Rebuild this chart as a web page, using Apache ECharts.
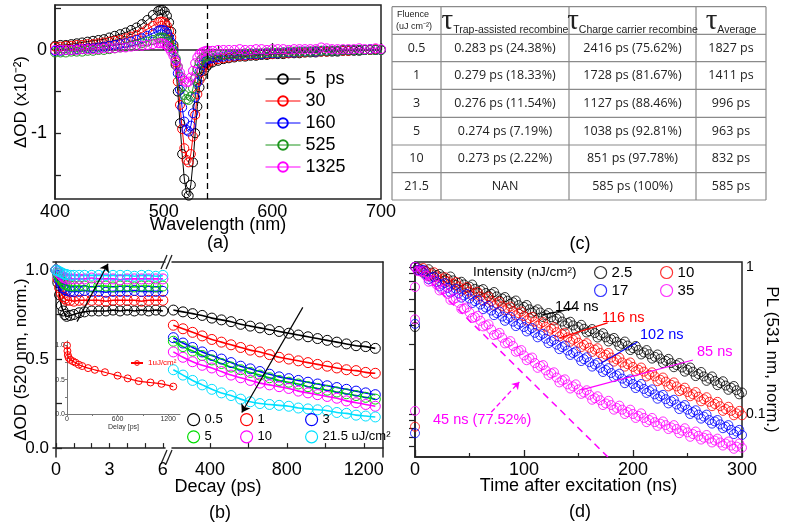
<!DOCTYPE html>
<html>
<head>
<meta charset="utf-8">
<script src="https://cdn.jsdelivr.net/npm/echarts@6.0.0/dist/echarts.min.js"></script>
<style>
html,body{margin:0;padding:0;background:#fff}
#chart{width:787px;height:528px}
</style>
</head>
<body>
<div id="chart"></div>
<script>
// ---- (a) transient absorption spectra ----
let wavelength = [400,405,410,415,420,425,430,435,440,445,450,455,460,465,470,475,480,485,490,495,
  497,499,501,503,505,507,509,511,513,515,517,519,521,523,525,527,529,531,533,535,537,539,541,
  545,550,555,560,565,570,575,580,585,590,595,600,605,610,615,620,625,630,635,640,645,650,655,660,665,670,675,680,685,690,695,700]
let spec5 = [0.05,0.06,0.06,0.07,0.08,0.09,0.10,0.11,0.12,0.13,0.15,0.17,0.19,0.21,0.24,0.27,0.31,0.36,0.42,0.47,
  0.48,0.48,0.46,0.41,0.33,0.22,0.06,-0.18,-0.50,-0.88,-1.25,-1.55,-1.72,-1.75,-1.62,-1.35,-1.00,-0.68,-0.45,-0.32,-0.25,-0.21,-0.18,
  -0.15,-0.13,-0.11,-0.10,-0.09,-0.08,-0.08,-0.07,-0.07,-0.06,-0.06,-0.05,-0.05,-0.05,-0.04,-0.04,-0.04,-0.03,-0.03,-0.03,-0.02,-0.02,-0.02,-0.02,-0.01,-0.01,-0.01,-0.01,0.0,0.0,0.0,0.0]
let spec30 = [0.04,0.04,0.05,0.05,0.06,0.06,0.07,0.07,0.08,0.09,0.10,0.11,0.12,0.14,0.16,0.18,0.21,0.25,0.29,0.33,
  0.34,0.34,0.33,0.29,0.23,0.15,0.03,-0.15,-0.38,-0.66,-0.95,-1.18,-1.32,-1.35,-1.25,-1.04,-0.78,-0.53,-0.36,-0.26,-0.20,-0.17,-0.15,
  -0.13,-0.11,-0.10,-0.09,-0.08,-0.07,-0.07,-0.06,-0.06,-0.05,-0.05,-0.05,-0.04,-0.04,-0.04,-0.03,-0.03,-0.03,-0.02,-0.02,-0.02,-0.02,-0.01,-0.01,-0.01,-0.01,0.0,0.0,0.0,0.0,0.01,0.0]
let spec160 = [-0.01,-0.01,0.00,0.00,0.01,0.01,0.02,0.02,0.03,0.04,0.05,0.06,0.07,0.08,0.10,0.12,0.14,0.17,0.20,0.23,
  0.24,0.24,0.23,0.20,0.15,0.09,0.00,-0.12,-0.28,-0.48,-0.69,-0.86,-0.96,-0.98,-0.91,-0.76,-0.57,-0.39,-0.26,-0.18,-0.14,-0.12,-0.11,
  -0.10,-0.09,-0.08,-0.07,-0.07,-0.06,-0.06,-0.05,-0.05,-0.05,-0.04,-0.04,-0.04,-0.03,-0.03,-0.03,-0.02,-0.02,-0.02,-0.02,-0.01,-0.01,-0.01,-0.01,0.0,0.0,0.0,0.0,0.0,0.01,0.0,0.0]
let spec525 = [-0.03,-0.03,-0.03,-0.02,-0.02,-0.02,-0.01,-0.01,0.00,0.00,0.01,0.02,0.03,0.04,0.05,0.06,0.08,0.10,0.12,0.14,
  0.15,0.15,0.14,0.12,0.08,0.04,-0.03,-0.10,-0.20,-0.32,-0.44,-0.54,-0.59,-0.60,-0.56,-0.46,-0.34,-0.23,-0.15,-0.11,-0.09,-0.08,-0.07,
  -0.07,-0.06,-0.06,-0.05,-0.05,-0.05,-0.04,-0.04,-0.04,-0.04,-0.03,-0.03,-0.03,-0.03,-0.02,-0.02,-0.02,-0.02,-0.02,-0.01,-0.01,-0.01,-0.01,-0.01,0.0,0.0,0.0,0.0,0.0,0.0,0.0,0.0]
let spec1325 = [0.00,0.00,0.00,0.00,0.00,0.01,0.01,0.01,0.01,0.02,0.02,0.02,0.03,0.03,0.04,0.05,0.05,0.06,0.07,0.08,
  0.08,0.08,0.07,0.05,0.02,-0.02,-0.07,-0.13,-0.20,-0.27,-0.33,-0.37,-0.39,-0.38,-0.33,-0.25,-0.16,-0.09,-0.05,-0.03,-0.02,-0.01,-0.01,
  -0.01,0.0,0.0,0.0,0.0,0.01,0.0,0.0,0.01,0.01,0.0,0.01,0.01,0.01,0.0,0.01,0.01,0.01,0.01,0.01,0.03,0.02,0.01,0.01,0.01,0.01,0.01,0.02,0.01,0.01,0.02,0.01]
let probeLine = 540

// ---- (b) kinetics at 520 nm ----
let fastDelay = [0,0.1,0.2,0.3,0.4,0.5,0.6,0.8,1.0,1.3,1.6,2.0,2.4,2.8,3.2,3.6,4.0,4.4,4.8,5.2,5.6,6.0]
let fast05 = [1.0,0.93,0.86,0.80,0.77,0.75,0.74,0.745,0.75,0.76,0.765,0.77,0.77,0.77,0.775,0.77,0.775,0.77,0.775,0.77,0.775,0.77]
let fast1 = [1.0,0.95,0.90,0.87,0.85,0.84,0.83,0.83,0.825,0.83,0.83,0.83,0.83,0.825,0.83,0.83,0.83,0.83,0.825,0.83,0.83,0.83]
let fast3 = [1.0,0.97,0.94,0.92,0.90,0.89,0.885,0.88,0.88,0.88,0.885,0.88,0.88,0.875,0.88,0.88,0.88,0.885,0.88,0.88,0.88,0.88]
let fast5 = [1.0,0.98,0.96,0.945,0.93,0.92,0.915,0.91,0.91,0.91,0.91,0.905,0.91,0.91,0.905,0.91,0.91,0.905,0.91,0.91,0.905,0.91]
let fast10 = [1.0,0.99,0.98,0.97,0.96,0.955,0.95,0.95,0.95,0.95,0.95,0.955,0.95,0.95,0.95,0.945,0.95,0.95,0.95,0.95,0.95,0.95]
let fast215 = [1.0,0.995,0.99,0.985,0.98,0.975,0.975,0.97,0.97,0.97,0.97,0.97,0.97,0.97,0.97,0.97,0.97,0.965,0.97,0.97,0.965,0.97]

let slowDelay = [210,260,310,360,410,460,510,560,610,660,710,760,810,860,910,960,1010,1060,1110,1160,1210,1260]
let slow05 = [0.775,0.765,0.755,0.745,0.73,0.72,0.71,0.695,0.685,0.675,0.665,0.655,0.645,0.635,0.625,0.615,0.605,0.595,0.585,0.575,0.57,0.56]
let slow1 = [0.69,0.67,0.65,0.63,0.61,0.595,0.58,0.565,0.55,0.54,0.525,0.51,0.50,0.49,0.48,0.47,0.46,0.45,0.44,0.435,0.425,0.42]
let slow3 = [0.62,0.59,0.565,0.54,0.52,0.50,0.48,0.46,0.445,0.43,0.415,0.40,0.39,0.38,0.37,0.36,0.35,0.34,0.33,0.32,0.31,0.30]
let slow5 = [0.60,0.57,0.545,0.52,0.495,0.475,0.455,0.44,0.425,0.41,0.395,0.38,0.37,0.36,0.345,0.335,0.325,0.315,0.305,0.295,0.285,0.275]
let slow10 = [0.54,0.51,0.485,0.465,0.45,0.43,0.41,0.395,0.38,0.365,0.355,0.345,0.335,0.32,0.31,0.30,0.29,0.28,0.265,0.255,0.245,0.235]
let slow215 = [0.44,0.41,0.38,0.355,0.33,0.31,0.295,0.275,0.26,0.25,0.245,0.24,0.235,0.225,0.22,0.215,0.21,0.20,0.195,0.185,0.18,0.175]

let insetDelay = [0,5,10,20,40,70,100,140,180,250,330,450,600,720,850,990,1120,1260]
let inset1uJ = [1.0,0.92,0.86,0.82,0.79,0.77,0.75,0.72,0.70,0.67,0.645,0.61,0.56,0.52,0.48,0.46,0.44,0.40]

let fluenceNames = ['0.5','1','3','5','10','21.5 uJ/cm²']

// ---- (c) table ----
let tableFluence = ['0.5','1','3','5','10','21.5']
let tableTrap = ['0.283 ps (24.38%)','0.279 ps (18.33%)','0.276 ps (11.54%)','0.274 ps (7.19%)','0.273 ps (2.22%)','NAN']
let tableCharge = ['2416 ps (75.62%)','1728 ps (81.67%)','1127 ps (88.46%)','1038 ps (92.81%)','851 ps (97.78%)','585 ps (100%)']
let tableAvg = ['1827 ps','1411 ps','996 ps','963 ps','832 ps','585 ps']

// ---- (d) PL decay ----
let plTime = [0,5,10,15,20,25,30,35,40,45,50,55,60,65,70,75,80,85,90,95,100,105,110,115,120,125,130,135,140,145,
  150,155,160,165,170,175,180,185,190,195,200,205,210,215,220,225,230,235,240,245,250,255,260,265,270,275,280,285,290,295,300]
let pl25 = [1.0,0.965,0.94,0.915,0.88,0.86,0.83,0.81,0.78,0.76,0.735,0.71,0.695,0.665,0.655,0.63,0.61,0.59,0.575,0.55,
  0.535,0.515,0.50,0.49,0.47,0.455,0.445,0.425,0.415,0.40,0.39,0.38,0.365,0.355,0.342,0.332,0.322,0.31,0.30,0.292,
  0.28,0.272,0.262,0.255,0.245,0.238,0.23,0.222,0.215,0.207,0.20,0.194,0.187,0.18,0.174,0.168,0.162,0.156,0.151,0.145,0.14]
let pl10 = [1.0,0.96,0.93,0.89,0.86,0.825,0.795,0.77,0.735,0.71,0.68,0.66,0.63,0.61,0.585,0.565,0.54,0.525,0.50,0.485,
  0.463,0.447,0.425,0.412,0.392,0.38,0.36,0.348,0.332,0.32,0.305,0.295,0.282,0.274,0.26,0.253,0.242,0.235,0.224,0.218,
  0.209,0.2,0.194,0.185,0.18,0.171,0.166,0.158,0.154,0.146,0.141,0.136,0.131,0.126,0.121,0.117,0.113,0.108,0.105,0.101,0.098]
let pl17 = [1.0,0.945,0.89,0.845,0.79,0.76,0.72,0.69,0.66,0.64,0.61,0.585,0.555,0.53,0.505,0.485,0.46,0.445,0.425,0.408,
  0.39,0.375,0.356,0.342,0.325,0.312,0.296,0.285,0.27,0.26,0.245,0.236,0.225,0.217,0.206,0.199,0.19,0.183,0.174,0.168,
  0.16,0.155,0.148,0.143,0.136,0.132,0.126,0.122,0.116,0.112,0.107,0.103,0.099,0.096,0.091,0.089,0.085,0.082,0.078,0.076,0.072]
let pl35 = [1.0,0.93,0.87,0.80,0.755,0.70,0.655,0.60,0.57,0.52,0.49,0.455,0.43,0.40,0.375,0.348,0.33,0.305,0.29,0.268,
  0.25,0.238,0.222,0.212,0.198,0.189,0.177,0.169,0.159,0.154,0.147,0.14,0.135,0.128,0.124,0.118,0.115,0.11,0.107,0.103,
  0.1,0.097,0.094,0.091,0.088,0.086,0.084,0.081,0.079,0.077,0.075,0.073,0.071,0.069,0.068,0.066,0.064,0.063,0.061,0.06,0.059]
// the interleaved (noisier) readings between the points above
let plTimeMid = [2.5,7.5,12.5,17.5,22.5,27.5,32.5,37.5,42.5,47.5,52.5,57.5,62.5,67.5,72.5,77.5,82.5,87.5,92.5,97.5,
  102.5,107.5,112.5,117.5,122.5,127.5,132.5,137.5,142.5,147.5,152.5,157.5,162.5,167.5,172.5,177.5,182.5,187.5,192.5,197.5,
  202.5,207.5,212.5,217.5,222.5,227.5,232.5,237.5,242.5,247.5,252.5,257.5,262.5,267.5,272.5,277.5,282.5,287.5,292.5,297.5]
let pl25Mid = [0.99,0.915,0.965,0.853,0.896,0.811,0.861,0.755,0.793,0.718,0.759,0.668,0.707,0.634,0.675,0.589,0.624,0.56,0.591,0.516,
  0.551,0.488,0.515,0.456,0.486,0.432,0.457,0.399,0.424,0.375,0.404,0.358,0.378,0.331,0.354,0.311,0.329,0.29,0.311,0.272,
  0.29,0.254,0.272,0.238,0.254,0.222,0.237,0.208,0.222,0.194,0.207,0.181,0.193,0.168,0.18,0.157,0.167,0.146,0.155,0.136]
let pl10Mid = [0.951,0.983,0.865,0.919,0.801,0.851,0.744,0.79,0.687,0.73,0.637,0.677,0.589,0.628,0.546,0.58,0.506,0.538,0.468,0.498,
  0.432,0.458,0.398,0.422,0.367,0.389,0.336,0.357,0.31,0.328,0.285,0.303,0.264,0.28,0.244,0.26,0.227,0.241,0.21,0.224,
  0.195,0.207,0.18,0.192,0.167,0.177,0.154,0.164,0.143,0.151,0.132,0.141,0.122,0.13,0.113,0.121,0.105,0.112,0.098,0.105]
let pl17Mid = [0.953,0.955,0.824,0.859,0.736,0.777,0.67,0.709,0.618,0.656,0.568,0.599,0.516,0.544,0.47,0.497,0.43,0.457,0.396,0.419,
  0.364,0.384,0.332,0.351,0.303,0.319,0.276,0.292,0.252,0.266,0.229,0.243,0.21,0.223,0.193,0.205,0.178,0.188,0.162,0.172,
  0.15,0.16,0.139,0.147,0.127,0.135,0.118,0.125,0.108,0.115,0.1,0.106,0.093,0.099,0.086,0.091,0.08,0.084,0.073,0.078]
let pl35Mid = [0.936,0.936,0.793,0.817,0.692,0.712,0.597,0.614,0.518,0.53,0.449,0.465,0.394,0.407,0.344,0.356,0.302,0.313,0.265,0.272,
  0.232,0.242,0.206,0.215,0.184,0.192,0.164,0.172,0.149,0.159,0.137,0.145,0.125,0.132,0.115,0.123,0.107,0.114,0.1,0.107,
  0.094,0.101,0.088,0.094,0.083,0.089,0.079,0.084,0.074,0.08,0.07,0.076,0.067,0.072,0.064,0.068,0.061,0.065,0.058,0.063]
// points recorded right at t = 0 (before the pulse)
let plStart25 = [0.39]
let plStart10 = [0.082]
let plStart17 = [0.41,0.074]
let plStart35 = [0.73,0.44,0.105]
let fit45Time = [0,177]
let fit45Value = [1.0,0.051]

let black = '#000000', red = '#ff0000', blue = '#0000ff', greenA = '#1e961e', greenB = '#00dd00', magenta = '#ff00ff', cyan = '#00e0ff'
let font = 'Liberation Sans'

function pairs(xs, ys){
  return xs.map(function(x, i){ return [x, ys[i]] })
}
function hollow(c){
  return {color:'rgba(255,255,255,0)', borderColor:c, borderWidth:1}
}
function lineAxis(){
  return {lineStyle:{color:'#222', width:1.5}}
}
function plain(v){ return String(v) }

let series = []

// (a)
let specList = [['5  ps', spec5, black], ['30', spec30, red], ['160', spec160, blue], ['525', spec525, greenA], ['1325', spec1325, magenta]]
specList.forEach(function(s, i){
  let item = {
    name: s[0], type:'line', xAxisIndex:0, yAxisIndex:0,
    data: pairs(wavelength, s[1]),
    symbol:'circle', symbolSize:9, showSymbol:true, showAllSymbol:true,
    color: s[2], itemStyle: hollow(s[2]), lineStyle:{color:s[2], width:1}
  }
  if(i == 0){
    item.markLine = {silent:true, symbol:'none', label:{show:false},
      lineStyle:{type:[6,4], color:'#000', width:1.3}, data:[{xAxis:probeLine}]}
  }
  series.push(item)
})

// (b)
let bColors = [black, red, blue, greenB, magenta, cyan]
let fastList = [fast05, fast1, fast3, fast5, fast10, fast215]
let slowList = [slow05, slow1, slow3, slow5, slow10, slow215]
fluenceNames.forEach(function(n, i){
  let c = bColors[i]
  let fast = {
    name:n, type:'line', xAxisIndex:1, yAxisIndex:1, data:pairs(fastDelay, fastList[i]),
    symbol:'circle', symbolSize:10, showAllSymbol:true, smooth:0.3,
    color:c, itemStyle:hollow(c), lineStyle:{color:c, width:1.6}
  }
  let slow = {
    name:n, type:'line', xAxisIndex:3, yAxisIndex:2, data:pairs(slowDelay, slowList[i]),
    symbol:'circle', symbolSize:10, showAllSymbol:true, smooth:0.3,
    color:c, itemStyle:hollow(c), lineStyle:{color:c, width:1.6}
  }
  if(i == 0){
    fast.markLine = {silent:true, symbol:['none','arrow'], symbolSize:8, label:{show:false},
      lineStyle:{color:'#000', width:1.2, type:'solid'},
      data:[[{coord:[1.18,0.71]},{coord:[2.92,1.035]}]]}
    slow.markLine = {silent:true, symbol:['none','arrow'], symbolSize:8, label:{show:false},
      lineStyle:{color:'#000', width:1.2, type:'solid'},
      data:[[{coord:[883,0.79]},{coord:[566,0.2]}]]}
  }
  series.push(fast, slow)
})
series.push({
  name:'1uJ/cm²', type:'line', xAxisIndex:5, yAxisIndex:3, data:pairs(insetDelay, inset1uJ),
  symbol:'circle', symbolSize:7, showAllSymbol:true, smooth:0.3,
  color:red, itemStyle:hollow(red), lineStyle:{color:red, width:1.2}
})

// (d)
let plList = [
  ['2.5', pl25, pl25Mid, plStart25, black, [[116,0.47],[148,0.526]]],
  ['10 ', pl10, pl10Mid, plStart10, red, [[132.5,0.329],[176.7,0.416]]],
  ['17', pl17, pl17Mid, plStart17, blue, [[171,0.222],[204,0.309]]],
  ['35', pl35, pl35Mid, plStart35, magenta, [[152.8,0.146],[255,0.233]]]
]
plList.forEach(function(s){
  let pts = pairs(plTime, s[1]).concat(pairs(plTimeMid, s[2])).concat(s[3].map(function(v){ return [0, v] }))
  series.push({
    name:s[0], type:'scatter', xAxisIndex:6, yAxisIndex:4, data:pts,
    symbol:'circle', symbolSize:9, color:s[4], itemStyle:hollow(s[4]),
    markLine:{silent:true, symbol:'none', label:{show:false},
      lineStyle:{color:s[4], width:1.2, type:'solid'},
      data:[[{coord:s[5][0]},{coord:s[5][1]}]]}
  })
})
series.push({
  name:'fit 45 ns', type:'line', xAxisIndex:6, yAxisIndex:4, data:pairs(fit45Time, fit45Value),
  symbol:'none', color:magenta, lineStyle:{color:magenta, width:1.5, type:[7,5]},
  markLine:{silent:true, symbol:['none','arrow'], symbolSize:7, label:{show:false},
    lineStyle:{color:magenta, width:1.3, type:[5,3]},
    data:[[{coord:[70,0.103]},{coord:[95.7,0.165]}]]}
})

// ---- table graphics ----
let colX = [392, 441, 569, 696, 766]
let rowY = [6.7, 34.3, 61.7, 89.3, 117.3, 145, 172.7, 200]
let graphic = []
colX.forEach(function(x){
  graphic.push({type:'line', shape:{x1:x, y1:rowY[0], x2:x, y2:rowY[rowY.length-1]}, style:{stroke:'#8a8a8a', lineWidth:1.2}})
})
rowY.forEach(function(y){
  graphic.push({type:'line', shape:{x1:colX[0], y1:y, x2:colX[4], y2:y}, style:{stroke:'#8a8a8a', lineWidth:1.2}})
})
let cellFont = 'Open Sans'
function cell(text, col, row){
  graphic.push({type:'text', x:(colX[col]+colX[col+1])/2, y:(rowY[row+1]+rowY[row+2])/2,
    style:{text:text, fontSize:12.5, fontFamily:cellFont, fill:'#222', align:'center', verticalAlign:'middle'}})
}
tableFluence.forEach(function(t, i){
  cell(t, 0, i); cell(tableTrap[i], 1, i); cell(tableCharge[i], 2, i); cell(tableAvg[i], 3, i)
})
graphic.push({type:'text', x:397, y:14.5, style:{text:'Fluence', fontSize:9, fontFamily:font, fill:'#222', align:'left', verticalAlign:'middle'}})
graphic.push({type:'text', x:396, y:27, style:{text:'(uJ cm⁻²)', fontSize:9, fontFamily:font, fill:'#222', align:'left', verticalAlign:'middle'}})
let tauRich = {
  t:{fontSize:29, fontFamily:'Liberation Serif', fill:'#222', lineHeight:26, verticalAlign:'bottom'},
  s:{fontSize:10.5, fontFamily:font, fill:'#222', lineHeight:12, verticalAlign:'bottom'}
}
let tauHeads = ['Trap-assisted recombine', 'Charge carrier recombine', 'Average']
tauHeads.forEach(function(h, i){
  graphic.push({type:'text', x:(colX[i+1]+colX[i+2])/2, y:23,
    style:{text:'{t|τ}{s|' + h + '}', rich:tauRich, align:'center', verticalAlign:'middle'}})
})

// ---- panel labels, axis titles and annotations ----
function label(text, x, y, size, color, align){
  graphic.push({type:'text', x:x, y:y, style:{text:text, fontSize:size, fontFamily:font, fill:color || '#000',
    align:align || 'center', verticalAlign:'middle'}})
}
label('(a)', 218, 243, 18)
label('(b)', 220, 513, 18)
label('(c)', 580, 244, 18)
label('(d)', 580, 512, 18)
label('Decay (ps)', 218, 487, 18)
label('Intensity (nJ/cm²)', 473, 272, 13.5, '#000', 'left')
label('144 ns', 555, 307, 14.5, black, 'left')
label('116 ns', 602, 318, 14.5, red, 'left')
label('102 ns', 640, 335, 14.5, blue, 'left')
label('85 ns', 697, 352, 14.5, magenta, 'left')
label('45 ns (77.52%)', 433, 420, 14.5, magenta, 'left')

// axis break marks
;[262, 457].forEach(function(y){
  graphic.push({type:'rect', shape:{x:163, y:y-3, width:10, height:6}, style:{fill:'#fff'}})
  graphic.push({type:'line', shape:{x1:161, y1:y+7, x2:167, y2:y-7}, style:{stroke:'#222', lineWidth:1.3}})
  graphic.push({type:'line', shape:{x1:166, y1:y+7, x2:172, y2:y-7}, style:{stroke:'#222', lineWidth:1.3}})
})

let tickLabel = {color:'#000', fontSize:17, fontFamily:font}
let noSplit = {show:false}

let option = {
  animation:false,
  backgroundColor:'#fff',
  textStyle:{fontFamily:font},
  grid:[
    {left:55, top:5, width:326, height:194, show:true, borderColor:'#222', borderWidth:1.5},
    {left:53, top:262, width:112, height:195},
    {left:172, top:262, width:211, height:195},
    {left:67, top:340.7, width:113, height:73.3},
    {left:415, top:262, width:327, height:195, show:true, borderColor:'#222', borderWidth:1.5}
  ],
  xAxis:[
    {gridIndex:0, type:'value', min:400, max:700, interval:100, axisLine:lineAxis(),
      axisTick:{inside:true, length:7, lineStyle:{color:'#222', width:1.3}},
      minorTick:{show:true, splitNumber:2, length:4, lineStyle:{color:'#222', width:1.2}},
      axisLabel:{color:'#000', fontSize:18, margin:4}, splitLine:noSplit,
      name:'Wavelength (nm)', nameLocation:'middle', nameGap:17, nameMoveOverlap:false,
      nameTextStyle:{color:'#000', fontSize:18}},
    {gridIndex:1, type:'value', min:-0.17, max:6.12, axisLine:lineAxis(),
      axisTick:{inside:true, length:5, customValues:[0,1,2,3,4,5,6], lineStyle:{color:'#222', width:1.2}},
      axisLabel:Object.assign({customValues:[0,3,6], margin:4}, tickLabel, {fontSize:18}), splitLine:noSplit},
    {gridIndex:1, type:'value', position:'top', min:-0.17, max:6.12, axisLine:lineAxis(),
      axisTick:{show:false}, axisLabel:{show:false}, splitLine:noSplit},
    {gridIndex:2, type:'value', min:203, max:1300, axisLine:lineAxis(),
      axisTick:{inside:true, length:5, customValues:[400,600,800,1000,1200], lineStyle:{color:'#222', width:1.2}},
      axisLabel:Object.assign({customValues:[400,800,1200], margin:4, formatter:plain}, tickLabel, {fontSize:18}), splitLine:noSplit},
    {gridIndex:2, type:'value', position:'top', min:203, max:1300, axisLine:lineAxis(),
      axisTick:{show:false}, axisLabel:{show:false}, splitLine:noSplit},
    {gridIndex:3, type:'value', min:0, max:1340, axisLine:{lineStyle:{color:'#777', width:1}},
      axisTick:{inside:false, length:2, customValues:[0,300,600,900,1200], lineStyle:{color:'#777'}},
      axisLabel:{customValues:[0,600,1200], fontSize:7, color:'#333', margin:2, formatter:plain}, splitLine:noSplit,
      name:'Delay [ps]', nameLocation:'middle', nameGap:10, nameMoveOverlap:false, nameTextStyle:{fontSize:7, color:'#333'}},
    {gridIndex:4, type:'value', min:0, max:300, interval:100, axisLine:lineAxis(),
      axisTick:{inside:true, length:7, lineStyle:{color:'#222', width:1.3}},
      minorTick:{show:true, splitNumber:2, length:4, lineStyle:{color:'#222', width:1.2}},
      axisLabel:{color:'#000', fontSize:18, margin:4}, splitLine:noSplit,
      name:'Time after excitation (ns)', nameLocation:'middle', nameGap:20, nameMoveOverlap:false,
      nameTextStyle:{color:'#000', fontSize:18}}
  ],
  yAxis:[
    {gridIndex:0, type:'value', min:-1.79, max:0.54, axisLine:lineAxis(),
      axisTick:{inside:true, length:6, customValues:[-1.5,-1,-0.5,0,0.5], lineStyle:{color:'#222', width:1.3}},
      axisLabel:Object.assign({customValues:[-1,0], margin:8}, tickLabel, {fontSize:18}), splitLine:noSplit,
      name:'ΔOD (x10⁻²)', nameLocation:'middle', nameGap:25, nameMoveOverlap:false,
      nameTextStyle:{color:'#000', fontSize:17}},
    {gridIndex:1, type:'value', min:-0.05, max:1.045, axisLine:lineAxis(),
      axisTick:{inside:true, length:6, customValues:[0,0.25,0.5,0.75,1], lineStyle:{color:'#222', width:1.3}},
      axisLabel:Object.assign({customValues:[0,0.5,1], margin:4, formatter:function(v){ return v.toFixed(1) }}, tickLabel),
      splitLine:noSplit,
      name:'ΔOD (520 nm, norm.)', nameLocation:'middle', nameGap:23, nameMoveOverlap:false,
      nameTextStyle:{color:'#000', fontSize:17}},
    {gridIndex:2, type:'value', position:'right', min:-0.05, max:1.045, axisLine:lineAxis(),
      axisTick:{show:false}, axisLabel:{show:false}, splitLine:noSplit},
    {gridIndex:3, type:'value', min:0, max:1.07, axisLine:{lineStyle:{color:'#777', width:1}},
      axisTick:{length:2, customValues:[0,0.25,0.5,0.75,1], lineStyle:{color:'#777'}},
      axisLabel:{customValues:[0,0.5,1], fontSize:7, color:'#333', margin:2, formatter:function(v){ return v.toFixed(1) }},
      splitLine:noSplit},
    {gridIndex:4, type:'log', logBase:10, position:'right', min:0.051, max:1.08, axisLine:lineAxis(),
      axisTick:{inside:true, length:6, customValues:[0.06,0.07,0.08,0.09,0.1,0.2,0.3,0.4,0.5,0.6,0.7,0.8,0.9,1], lineStyle:{color:'#222', width:1.2}},
      axisLabel:{customValues:[0.1,1], color:'#000', fontSize:14, margin:4}, splitLine:noSplit,
      name:'PL (531 nm, norm.)', nameLocation:'middle', nameRotate:-90, nameGap:21, nameMoveOverlap:false,
      nameTextStyle:{color:'#000', fontSize:17}}
  ],
  legend:[
    {left:260, top:65, orient:'vertical', itemGap:4, itemWidth:35, itemHeight:12, selectedMode:false,
      lineStyle:{width:1}, textStyle:{fontSize:18, color:'#000'}, data:['5  ps','30','160','525','1325']},
    {left:182, top:408, orient:'vertical', itemGap:4, itemWidth:12, itemHeight:12, icon:'circle', selectedMode:false,
      itemStyle:{borderWidth:1.2}, textStyle:{fontSize:13, color:'#000'}, data:['0.5','5']},
    {left:235, top:408, orient:'vertical', itemGap:4, itemWidth:12, itemHeight:12, icon:'circle', selectedMode:false,
      itemStyle:{borderWidth:1.2}, textStyle:{fontSize:13, color:'#000'}, data:['1','10']},
    {left:300, top:408, orient:'vertical', itemGap:4, itemWidth:12, itemHeight:12, icon:'circle', selectedMode:false,
      itemStyle:{borderWidth:1.2}, textStyle:{fontSize:13, color:'#000'}, data:['3','21.5 uJ/cm²']},
    {left:125, top:354, itemWidth:12, itemHeight:6, selectedMode:false,
      itemStyle:{color:'rgba(255,255,255,0)', borderColor:red, borderWidth:1},
      textStyle:{fontSize:8, color:red}, data:['1uJ/cm²']},
    {left:589, top:260, orient:'vertical', itemGap:3, itemWidth:12, itemHeight:12, icon:'circle', selectedMode:false,
      itemStyle:{borderWidth:1.2}, textStyle:{fontSize:15, color:'#000'}, data:['2.5','17']},
    {left:655, top:260, orient:'vertical', itemGap:3, itemWidth:12, itemHeight:12, icon:'circle', selectedMode:false,
      itemStyle:{borderWidth:1.2}, textStyle:{fontSize:15, color:'#000'}, data:['10 ','35']}
  ],
  graphic:graphic,
  series:series
}

let myChart = echarts.init(document.getElementById('chart'))
myChart.setOption(option)
</script>
</body>
</html>
